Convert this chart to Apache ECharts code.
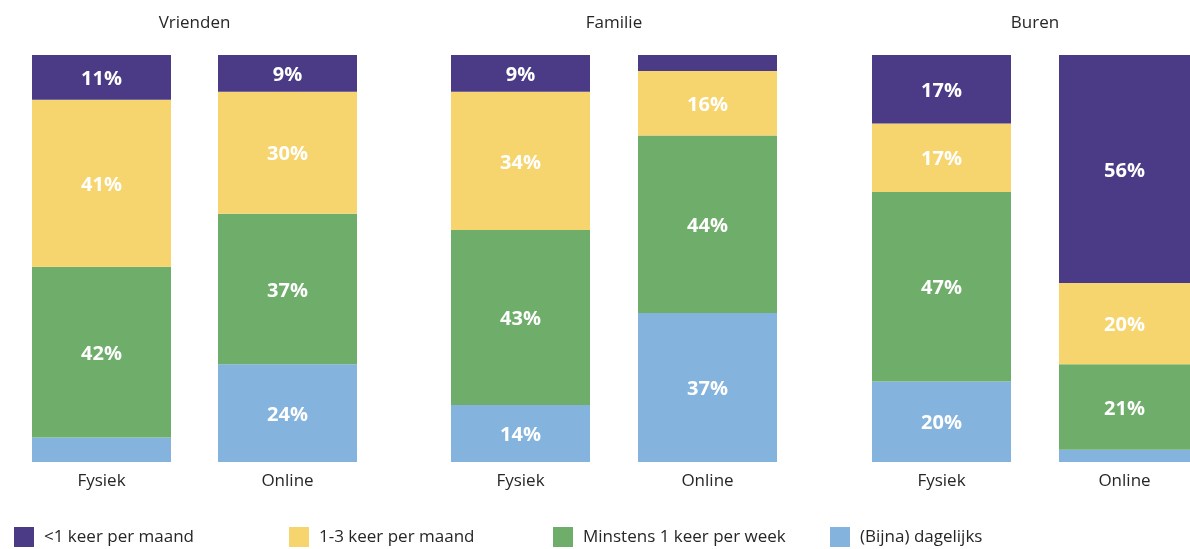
<!DOCTYPE html>
<html>
<head>
<meta charset="utf-8">
<script src="https://cdn.jsdelivr.net/npm/echarts@6/dist/echarts.min.js"></script>
<style>html,body{margin:0;padding:0;background:#fff}#c{width:1190px;height:549px}</style>
</head>
<body>
<div id="c"></div>
<script>
const panels = ['Vrienden', 'Familie', 'Buren'];
const modes = ['Fysiek', 'Online'];
const seriesNames = ['(Bijna) dagelijks', 'Minstens 1 keer per week', '1-3 keer per maand', '<1 keer per maand'];
const legendOrder = ['<1 keer per maand', '1-3 keer per maand', 'Minstens 1 keer per week', '(Bijna) dagelijks'];
// bar order: Vrienden Fysiek, Vrienden Online, Familie Fysiek, Familie Online, Buren Fysiek, Buren Online
const dagelijks = [6, 24, 14, 37, 20, 3];
const week = [42, 37, 43, 44, 47, 21];
const maand13 = [41, 30, 34, 16, 17, 20];
const minder = [11, 9, 9, 4, 17, 56];

const colors = ['#84B3DD', '#6EAE6A', '#F6D56E', '#4B3B87'];
const valueSets = [dagelijks, week, maand13, minder];
const barLefts = [32, 218, 451, 638, 872, 1059];
const barW = 139;
const font = '"Segoe UI", "Open Sans", "Noto Sans", sans-serif';

const grids = [], xAxes = [], yAxes = [], series = [];
for (let b = 0; b < 6; b++) {
  grids.push({left: barLefts[b], width: barW, top: 55, height: 407});
  xAxes.push({type: 'category', gridIndex: b, data: [modes[b % 2]],
    axisLine: {show: false}, axisTick: {show: false},
    axisLabel: {color: '#262626', fontSize: 17, fontFamily: font, margin: 11}});
  const total = valueSets.reduce((s, arr) => s + arr[b], 0);
  yAxes.push({type: 'value', gridIndex: b, min: 0, max: total, show: false, splitLine: {show: false}});
  for (let s = 0; s < 4; s++) {
    series.push({
      name: seriesNames[s], type: 'bar', xAxisIndex: b, yAxisIndex: b,
      stack: 'bar' + b, barWidth: barW, data: [valueSets[s][b]],
      itemStyle: {color: colors[s]},
      label: {show: true, position: 'inside', color: '#fff', fontSize: 20, fontWeight: 'bold', fontFamily: font,
        offset: [0, 2],
        formatter: p => p.value >= 8 ? p.value + '%' : ''},
      emphasis: {disabled: true}, animation: false
    });
  }
}

const legendLefts = [9, 284, 548, 825];
const legends = legendOrder.map((n, i) => ({
  data: [n], left: legendLefts[i], top: 522, icon: 'rect', itemWidth: 20, itemHeight: 20,
  selectedMode: false,
  textStyle: {color: '#262626', fontSize: 17, fontFamily: font, padding: [0, 0, 0, 5]}
}));

const titleCenters = [194.5, 614, 1035];
const graphic = panels.map((p, i) => ({
  type: 'text', x: titleCenters[i], y: 23,
  style: {text: p, fill: '#262626', font: '17px ' + font, textAlign: 'center', textVerticalAlign: 'middle'}
}));

const chart = echarts.init(document.getElementById('c'));
chart.setOption({
  animation: false,
  grid: grids, xAxis: xAxes, yAxis: yAxes, series: series,
  legend: legends, graphic: graphic
});
</script>
</body>
</html>
